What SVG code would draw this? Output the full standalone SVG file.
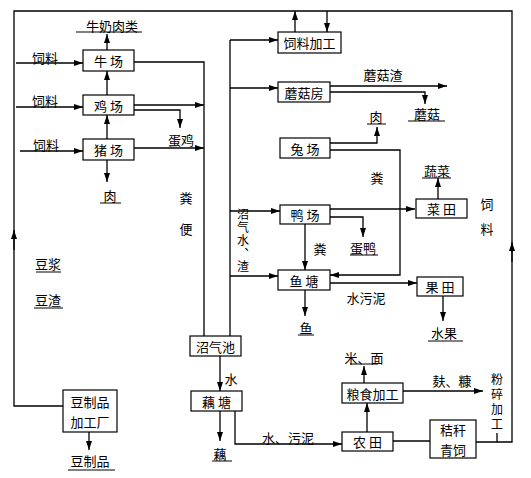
<svg xmlns="http://www.w3.org/2000/svg" width="531" height="478" viewBox="0 0 531 478">
<defs>
<marker id="ah" markerWidth="9" markerHeight="6" refX="9" refY="3" orient="auto" markerUnits="userSpaceOnUse">
<path d="M0,0 L9,3 L0,6 Z" fill="#000"/>
</marker>
<style>
text{font-family:"Noto Sans CJK SC","Noto Sans CJK JP",sans-serif;font-size:13px;fill:#000;text-anchor:middle;dominant-baseline:central}
text.v{writing-mode:vertical-rl;font-size:12px}
.box rect{fill:#fff;stroke:#000;stroke-width:1.2}
.c path,.c line{fill:none;stroke:#000;stroke-width:1.3}
.a{marker-end:url(#ah)}
.u{stroke:#000;stroke-width:1}
</style>
</defs>
<rect width="531" height="478" fill="#fff"/>
<g id="connectors" class="c">
<path d="M63,406 H14 V11 H512 V442 H476"/>
<path class="a" d="M14,250 V230"/>
<path class="a" d="M512,262 V242"/>
<path class="a" d="M16,63 H83"/>
<path class="a" d="M16,107 H83"/>
<path class="a" d="M20,151 H83"/>
<path class="a" d="M107,50 V34"/>
<path class="a" d="M107,95 V71"/>
<path class="a" d="M107,139 V115"/>
<path class="a" d="M107,160 V182"/>
<path d="M134,62 H204 V336"/>
<path class="a" d="M134,105 H204"/>
<path class="a" d="M134,110 H180 V128"/>
<path class="a" d="M134,148 H204"/>
<path d="M230,336 V40"/>
<path class="a" d="M230,40 H278"/>
<path class="a" d="M295,32 V11"/>
<path class="a" d="M327,11 V32"/>
<path class="a" d="M230,88 H278"/>
<path class="a" d="M330,86 H447"/>
<path class="a" d="M330,92 H425 V104"/>
<path class="a" d="M330,143 H377 V127"/>
<path class="a" d="M330,150 H400 V275 H330"/>
<path class="a" d="M230,211 H280"/>
<path class="a" d="M330,209 H415"/>
<path class="a" d="M330,217 H363 V237"/>
<path class="a" d="M305,224 V270"/>
<path class="a" d="M438,199 V178"/>
<path class="a" d="M230,276 H278"/>
<path class="a" d="M330,283 H417"/>
<path class="a" d="M305,290 V316"/>
<path class="a" d="M443,296 V321"/>
<path class="a" d="M220,356 V391"/>
<path class="a" d="M220,411 V441"/>
<path class="a" d="M235,411 V444 H342"/>
<path class="a" d="M367,432 V403"/>
<path class="a" d="M364,383 V366"/>
<path class="a" d="M403,391 H483"/>
<path d="M393,441 H430"/>
<path d="M497,433 V442"/>
<path class="a" d="M89,432 V450"/>
</g>
<g id="n_niu" class="box"><rect x="83" y="50" width="51" height="21"/><text x="108.5" y="60.5">牛 场</text></g>
<g id="n_ji" class="box"><rect x="83" y="95" width="51" height="20"/><text x="108.5" y="105">鸡 场</text></g>
<g id="n_zhu" class="box"><rect x="83" y="139" width="51" height="21"/><text x="108.5" y="149.5">猪 场</text></g>
<g id="n_siliao" class="box"><rect x="278" y="32" width="63" height="21"/><text x="309.5" y="42.5">饲料加工</text></g>
<g id="n_mogu" class="box"><rect x="278" y="82" width="52" height="20"/><text x="304" y="92">蘑菇房</text></g>
<g id="n_tu" class="box"><rect x="280" y="138" width="50" height="20"/><text x="305" y="148">兔 场</text></g>
<g id="n_ya" class="box"><rect x="280" y="205" width="50" height="19"/><text x="305" y="214.5">鸭 场</text></g>
<g id="n_cai" class="box"><rect x="416" y="199" width="51" height="19"/><text x="441.5" y="208.5">菜 田</text></g>
<g id="n_yu" class="box"><rect x="278" y="270" width="52" height="20"/><text x="304" y="280">鱼 塘</text></g>
<g id="n_guo" class="box"><rect x="417" y="277" width="46" height="19"/><text x="440" y="286.5">果 田</text></g>
<g id="n_zhaoqi" class="box"><rect x="190" y="336" width="51" height="20"/><text x="215.5" y="346">沼气池</text></g>
<g id="n_outang" class="box"><rect x="191" y="391" width="51" height="20"/><text x="216.5" y="401">藕 塘</text></g>
<g id="n_nong" class="box"><rect x="342" y="432" width="51" height="19"/><text x="367.5" y="441.5">农 田</text></g>
<g id="n_liang" class="box"><rect x="342" y="383" width="61" height="20"/><text x="372.5" y="393">粮食加工</text></g>
<g id="n_jie" class="box"><rect x="430" y="420" width="46" height="38"/><text x="453" y="429.5">秸秆</text><text x="453" y="449">青饲</text></g>
<g id="n_dou" class="box"><rect x="63" y="390" width="54" height="42"/><text x="90" y="401">豆制品</text><text x="90" y="421">加工厂</text></g>
<g id="labels">
<text x="112" y="25">牛奶肉类</text><line class="u" x1="76" y1="32" x2="142" y2="32"/>
<text x="45" y="57">饲料</text>
<text x="45" y="100">饲料</text>
<text x="46" y="144">饲料</text>
<text x="181" y="139">蛋鸡</text>
<text x="110" y="195">肉</text><line class="u" x1="100" y1="203" x2="121" y2="203"/>
<text x="186" y="197">粪</text>
<text x="186" y="228">便</text>
<text class="v" x="243" y="241" style="letter-spacing:1px">沼气水、渣</text>
<text x="48" y="263">豆浆</text><line class="u" x1="36" y1="272" x2="61" y2="272"/>
<text x="48" y="299">豆渣</text><line class="u" x1="34" y1="308" x2="63" y2="308"/>
<text x="383" y="74">蘑菇渣</text>
<text x="427" y="113">蘑菇</text><line class="u" x1="408" y1="121" x2="445" y2="121"/>
<text x="376" y="116">肉</text><line class="u" x1="367" y1="124" x2="386" y2="124"/>
<text x="377" y="177">粪</text>
<text x="437" y="170">蔬菜</text><line class="u" x1="422" y1="178" x2="451" y2="178"/>
<text x="320" y="248">粪</text>
<text x="363" y="247">蛋鸭</text><line class="u" x1="350" y1="255" x2="378" y2="255"/>
<text x="366" y="297">水污泥</text>
<text x="306" y="327">鱼</text><line class="u" x1="298" y1="335" x2="314" y2="335"/>
<text x="444" y="332">水果</text><line class="u" x1="428" y1="341" x2="463" y2="341"/>
<text x="487" y="203">饲</text>
<text x="487" y="228">料</text>
<text x="231" y="378">水</text>
<text x="220" y="453">藕</text><line class="u" x1="212" y1="461" x2="232" y2="461"/>
<text x="288" y="437">水、污泥</text>
<text x="364" y="357">米、面</text><line class="u" x1="350" y1="364" x2="378" y2="364"/>
<text x="452" y="380">麸、糠</text>
<text class="v" x="497" y="403" style="letter-spacing:3px">粉碎加工</text>
<text x="90" y="460">豆制品</text><line class="u" x1="68" y1="470" x2="115" y2="470"/>
</g>
</svg>
